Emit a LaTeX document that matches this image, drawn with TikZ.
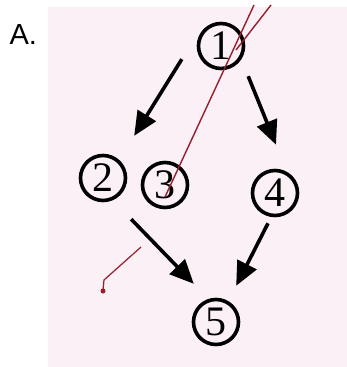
\documentclass[tikz,border=0pt]{standalone}
\usepackage{fontspec}
\usepackage{tikz}
\usetikzlibrary{arrows.meta}
\newfontfamily\labelfont{Liberation Sans}
\newfontfamily\digitfont{Liberation Serif}
\definecolor{photopink}{RGB}{250,240,246}
\definecolor{penred}{RGB}{150,30,45}

\begin{document}
\begin{tikzpicture}[x=1pt,y=-1pt,
    num/.style={draw,circle,line width=3.6pt,minimum size=45pt,inner sep=0pt,
      font=\digitfont\fontsize{42}{42}\selectfont},
    flow/.style={line width=3.6pt,-{Triangle[length=24pt,width=21pt]}}]
        \useasboundingbox (0,0) rectangle (347,367);
        \fill[photopink] (48,7) rectangle (347,367);
        \node[anchor=base west,font=\labelfont\fontsize{29}{29}\selectfont] (lab) at (6,44) {A.};
        \node[num] (n1) at (221,46) {1};
        \node[num] (n2) at (103,178) {2};
        \node[num] (n3) at (165,185) {3};
        \node[num] (n4) at (275,193) {4};
        \node[num] (n5) at (216,322) {5};
        \draw[flow] ([shift={(-22,-4)}]n1.south west)--([shift={(14,-25)}]n2.north east);
        \draw[flow] ([shift={(10,13)}]n1.south east)--([shift={(1,-24)}]n4.north);
        \draw[flow] ([shift={(11,24)}]n2.south east)--([shift={(-5,-21)}]n5.north west);
        \draw[flow] ([shift={(-7,6)}]n4.south)--([shift={(3,-19)}]n5.north east);
        \draw[penred,line width=1.4pt] (254,5)--(165,197) (271,5)--(236,50);
        \draw[penred,line width=1.2pt] (141,247)--(104,280)--(103,290);
        \fill[penred] (103,291) circle (2.5pt);
      \end{tikzpicture}
\end{document}
